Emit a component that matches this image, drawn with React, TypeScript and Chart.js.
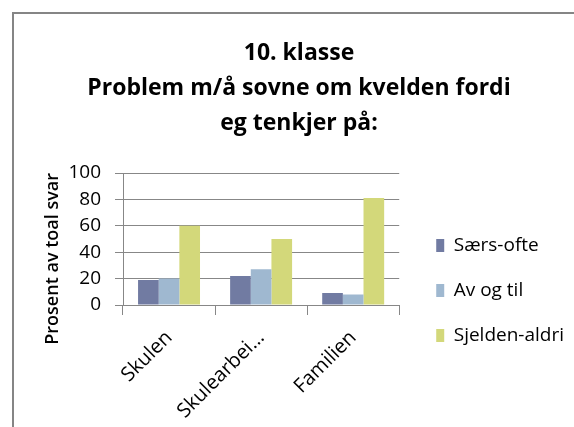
import React, { useEffect, useRef } from "react";
import { Chart, registerables } from "chart.js";

Chart.register(...registerables);

const categories = ["Skulen", "Skulearbei…", "Familien"];
const seriesNames = ["Særs-ofte", "Av og til", "Sjelden-aldri"];
const saersOfte = [19, 22, 9];
const avOgTil = [20, 27, 8];
const sjeldenAldri = [60, 50, 81];
const yTickMin = 0;
const yTickMax = 100;
const yTickStep = 20;
const titleLines = ["10. klasse", "Problem m/å sovne om kvelden fordi", "eg tenkjer på:"];
const yAxisTitle = "Prosent av toal svar";
const seriesColors = ["#717ba2", "#9fb8d0", "#d3d87a"];

const FONT = "'Open Sans', Lato, sans-serif";
const GRID = "#878787";
const LEGEND_SHIFT = 77;

const framePlugin = {
  id: "frame",
  beforeDraw(chart: any) {
    const ctx = chart.ctx;
    ctx.save();
    ctx.strokeStyle = "#858585";
    ctx.lineWidth = 2;
    ctx.beginPath();
    ctx.moveTo(13, chart.height);
    ctx.lineTo(13, 13);
    ctx.lineTo(chart.width, 13);
    ctx.stroke();
    ctx.restore();
  },
};

// moves the (full height) legend column down so that it sits beside the lower part of the plot
const legendShiftPlugin = {
  id: "legendShift",
  afterLayout(chart: any) {
    const lg = chart.legend;
    if (lg) {
      lg.top += LEGEND_SHIFT;
      lg.bottom += LEGEND_SHIFT;
    }
  },
};

export default function App() {
  const ref = useRef<HTMLCanvasElement>(null);
  useEffect(() => {
    document.body.style.margin = "0";
    const data = [saersOfte, avOgTil, sjeldenAldri];
    const chart = new Chart(ref.current!, {
      type: "bar",
      data: {
        labels: categories,
        datasets: seriesNames.map((name, i) => ({
          label: name,
          data: data[i],
          backgroundColor: seriesColors[i],
          borderWidth: 0,
          categoryPercentage: 0.673,
          barPercentage: 1.0,
        })),
      },
      options: {
        responsive: false,
        animation: false,
        layout: { padding: { left: 24, right: 0, top: 0, bottom: 0 } },
        plugins: {
          title: {
            display: true,
            text: titleLines,
            color: "#000",
            font: { family: FONT, size: 23, weight: "bold", lineHeight: 35 / 23 },
            padding: { top: 36, bottom: 32 },
          },
          legend: {
            position: "right",
            align: "center",
            maxWidth: 220,
            labels: {
              boxWidth: 8,
              boxHeight: 13,
              padding: 26,
              color: "#000",
              font: { family: FONT, size: 19 },
            },
          },
          tooltip: { enabled: false },
        },
        scales: {
          x: {
            offset: true,
            grid: { offset: true, drawOnChartArea: false, drawTicks: true, tickLength: 10, color: GRID },
            border: { display: true, color: GRID },
            ticks: {
              maxRotation: 45,
              minRotation: 45,
              color: "#000",
              padding: 11,
              font: { family: FONT, size: 20 },
            },
            afterFit: (s: any) => {
              s.height = 427 - 305;
            },
          },
          y: {
            min: yTickMin,
            max: yTickMax,
            ticks: { stepSize: yTickStep, color: "#000", padding: 14, font: { family: FONT, size: 19 } },
            grid: { color: GRID, tickLength: 8 },
            border: { display: true, color: GRID },
            title: {
              display: true,
              text: yAxisTitle,
              align: "end",
              color: "#000",
              font: { family: FONT, size: 18, weight: "600" },
              padding: { top: 18, bottom: 0 },
            },
            afterFit: (s: any) => {
              s.width = 123 - 24;
            },
          },
          y2: {
            position: "right",
            display: true,
            grid: { display: false },
            ticks: { display: false },
            border: { display: false },
            afterFit: (s: any) => {
              s.width = 11;
            },
          },
        },
      } as any,
      plugins: [framePlugin, legendShiftPlugin],
    });
    return () => chart.destroy();
  }, []);
  return <canvas ref={ref} width={574} height={427} style={{ display: "block" }} />;
}
